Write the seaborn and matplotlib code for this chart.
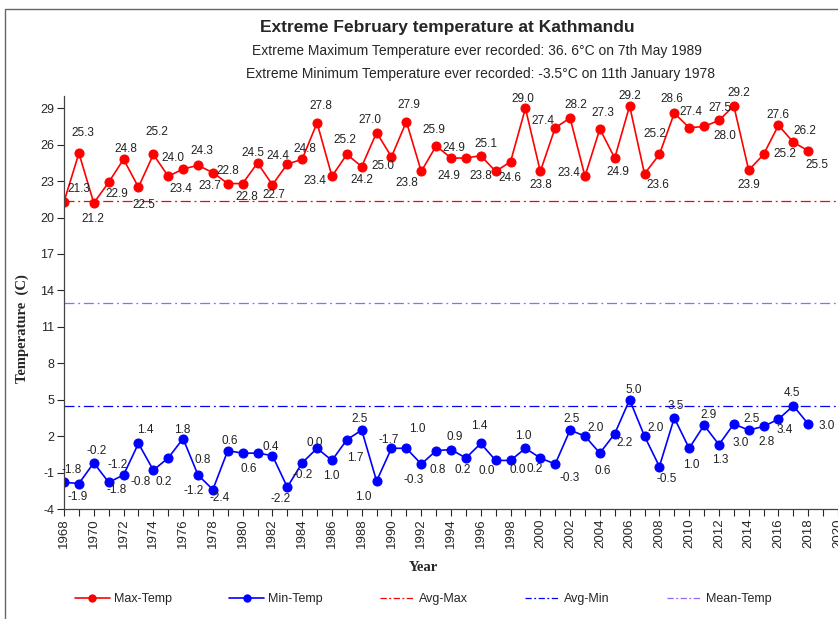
import matplotlib
matplotlib.use("Agg")
import matplotlib.pyplot as plt
from matplotlib.lines import Line2D
from matplotlib.patches import Rectangle
from matplotlib.ticker import MultipleLocator
import pandas as pd
import seaborn as sns

# ── data ─────────────────────────────────────────────────────
years = list(range(1968, 2019))
max_temp = [21.3, 25.3, 21.2, 22.9, 24.8, 22.5, 25.2, 23.4, 24.0, 24.3,
            23.7, 22.8, 22.8, 24.5, 22.7, 24.4, 24.8, 27.8, 23.4, 25.2,
            24.2, 27.0, 25.0, 27.9, 23.8, 25.9, 24.9, 24.9, 25.1, 23.8,
            24.6, 29.0, 23.8, 27.4, 28.2, 23.4, 27.3, 24.9, 29.2, 23.6,
            25.2, 28.6, 27.4, 27.5, 28.0, 29.2, 23.9, 25.2, 27.6, 26.2,
            25.5]
min_temp = [-1.8, -1.9, -0.2, -1.8, -1.2, 1.4, -0.8, 0.2, 1.8, -1.2,
            -2.4, 0.8, 0.6, 0.6, 0.4, -2.2, -0.2, 1.0, 0.0, 1.7,
            2.5, -1.7, 1.0, 1.0, -0.3, 0.8, 0.9, 0.2, 1.4, 0.0,
            0.0, 1.0, 0.2, -0.3, 2.5, 2.0, 0.6, 2.2, 5.0, 2.0,
            -0.5, 3.5, 1.0, 2.9, 1.3, 3.0, 2.5, 2.8, 3.4, 4.5,
            3.0]
avg_max = 21.35
avg_min = 4.5
mean_temp = 13.0

# label offsets (pixels) as placed in the original chart
max_off = [(15, 13), (4, 20), (-1, -16), (8, -12), (2, 10), (5, -18), (4, 22),
           (13, -13), (-10, 11), (4, 14), (-3, -13), (0, 13), (4, -13), (-5, 10),
           (1, -10), (-9, 8), (3, 10), (4, 17), (-17, -5), (-2, 14), (0, -13),
           (-7, 13), (-9, -9), (3, 17), (-14, -12), (-2, 16), (3, 10), (-17, -18),
           (5, 12), (-15, -5), (-1, -16), (-3, 9), (0, -14), (-12, 7), (6, 13),
           (-16, 3), (3, 16), (3, -14), (0, 10), (13, -11), (-5, 20), (-2, 14),
           (2, 16), (16, 18), (6, -16), (5, 13), (0, -15), (21, 0), (-1, 10),
           (12, 11), (9, -14)]
min_off = [(8, 12), (-1, -13), (3, 12), (8, -8), (-6, 10), (7, 13), (-13, -12),
           (-5, -24), (-1, 9), (-4, -16), (7, -8), (-25, -9), (-13, 12), (-9, -16),
           (-2, 9), (-7, -12), (0, -12), (14, -28), (-17, 17), (8, -18), (-2, 11),
           (12, 41), (-28, -49), (11, 19), (-8, -16), (2, -19), (4, 13), (-3, -12),
           (-1, 17), (-9, -11), (7, -10), (-2, 12), (-6, -11), (14, -14), (2, 11),
           (11, 8), (3, -18), (10, -9), (4, 10), (11, 8), (7, -12), (1, 12),
           (2, -17), (5, 10), (1, -15), (7, -19), (3, 11), (3, -16), (6, -11),
           (-1, 13), (18, -2)]

df = pd.DataFrame({"Year": years, "Max-Temp": max_temp, "Min-Temp": min_temp})

# ── style ────────────────────────────────────────────────────
sns.set_style("white")
plt.rcParams["font.family"] = ["Liberation Sans", "DejaVu Sans"]
plt.rcParams["axes.unicode_minus"] = False

RED = "#ff0000"
BLUE = "#0000ff"
PURPLE = "#9966ff"

fig = plt.figure(figsize=(8.38, 6.19), dpi=100)
ax = fig.add_axes([0.0764, 0.1777, 0.9236, 0.667])

sns.lineplot(data=df, x="Year", y="Max-Temp", ax=ax, color=RED, lw=1.2,
             marker="o", markersize=6.5, markeredgecolor=RED)
sns.lineplot(data=df, x="Year", y="Min-Temp", ax=ax, color=BLUE, lw=1.2,
             marker="o", markersize=6.5, markeredgecolor=BLUE)

ax.axhline(avg_max, color=RED, lw=0.9, ls="-.", dashes=(8, 3, 1.5, 3))
ax.axhline(avg_min, color=BLUE, lw=0.9, ls="-.", dashes=(8, 3, 1.5, 3))
ax.axhline(mean_temp, color=PURPLE, lw=0.9, ls="-.", dashes=(8, 3, 1.5, 3))

for x, v, (dx, dy) in zip(years, max_temp, max_off):
    ax.annotate(f"{v:.1f}", (x, v), xytext=(dx, dy), textcoords="offset pixels",
                ha="center", va="center", fontsize=8.5, color="#222222")
for x, v, (dx, dy) in zip(years, min_temp, min_off):
    ax.annotate(f"{v:.1f}", (x, v), xytext=(dx, dy), textcoords="offset pixels",
                ha="center", va="center", fontsize=8.5, color="#222222")

# ── axes ─────────────────────────────────────────────────────
ax.set_xlim(1968, 2020)
ax.set_ylim(-4, 30)
ax.set_yticks(list(range(-4, 30, 3)))
ax.xaxis.set_major_locator(MultipleLocator(2))
ax.xaxis.set_minor_locator(MultipleLocator(1))
ax.tick_params(axis="x", which="major", direction="out", length=5, width=0.8,
               labelrotation=90, labelsize=9.5, bottom=True, pad=2)
ax.tick_params(axis="x", which="minor", direction="out", length=5, width=0.8,
               bottom=True)
ax.tick_params(axis="y", direction="out", length=5, width=0.8, labelsize=9,
               left=True, pad=2)
for s in ["top", "right"]:
    ax.spines[s].set_visible(False)
for s in ["left", "bottom"]:
    ax.spines[s].set_color("#444444")
    ax.spines[s].set_linewidth(0.9)

ax.set_xlabel("")
ax.set_ylabel("")
fig.text(0.505, 0.084, "Year", ha="center", va="center", fontsize=10.5,
         fontweight="bold", family="Liberation Serif")
fig.text(0.026, 0.47, "Temperature  (C)", ha="center", va="center", rotation=90,
         fontsize=10.5, fontweight="bold", family="Liberation Serif")

# ── titles ───────────────────────────────────────────────────
fig.text(0.534, 0.956, "Extreme February temperature at Kathmandu", ha="center",
         va="center", fontsize=12.5, fontweight="bold")
fig.text(0.569, 0.918, "Extreme Maximum Temperature ever recorded: 36. 6°C on 7th May 1989",
         ha="center", va="center", fontsize=10)
fig.text(0.573, 0.880, "Extreme Minimum Temperature ever recorded: -3.5°C on 11th January 1978",
         ha="center", va="center", fontsize=10)

# ── legend ───────────────────────────────────────────────────
handles = [
    Line2D([], [], color=RED, lw=1.2, marker="o", markersize=5),
    Line2D([], [], color=BLUE, lw=1.2, marker="o", markersize=5),
    Line2D([], [], color=RED, lw=0.9, ls="-.", dashes=(5, 2, 1.5, 2)),
    Line2D([], [], color=BLUE, lw=0.9, ls="-.", dashes=(5, 2, 1.5, 2)),
    Line2D([], [], color=PURPLE, lw=0.9, ls="-.", dashes=(5, 2, 1.5, 2)),
]
labels = ["Max-Temp", "Min-Temp", "Avg-Max", "Avg-Min", "Mean-Temp"]
fig.legend(handles, labels, loc="center", bbox_to_anchor=(0.505, 0.032), ncol=5,
           frameon=False, fontsize=9, handlelength=2.8, handletextpad=0.3,
           columnspacing=4.6)

# outer chart frame
fig.patches.append(Rectangle((0.006, -0.01), 1.1, 0.006 + 0.99, transform=fig.transFigure,
                             fill=False, edgecolor="#666666", lw=1.0))

fig.savefig("out.png", dpi=100)
